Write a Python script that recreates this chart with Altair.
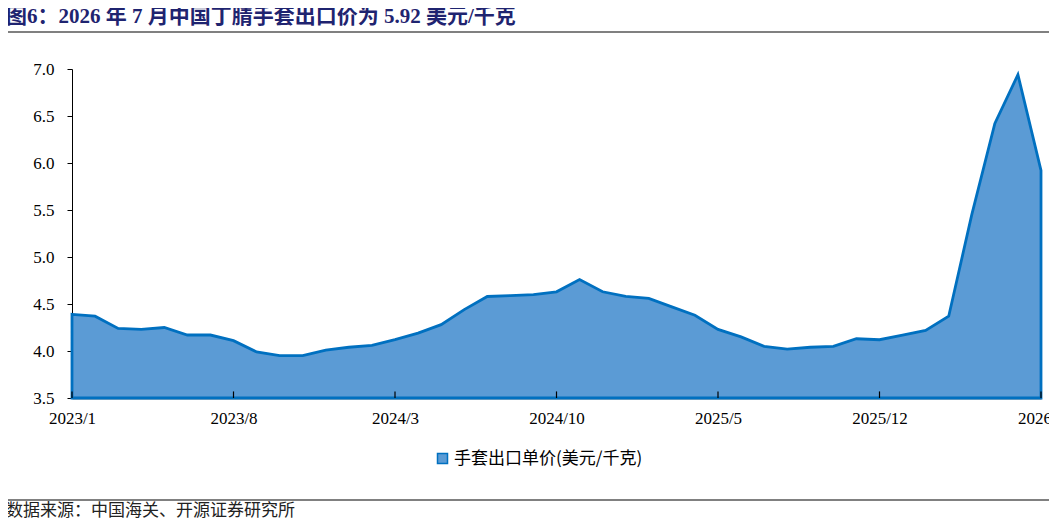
import json
import altair as alt
import pandas as pd

# monthly categories 2023/1 .. 2026/7
months = [f"{y}/{m}" for y in (2023, 2024, 2025, 2026) for m in range(1, 13)][:43]
tick_months = ["2023/1", "2023/8", "2024/3", "2024/10", "2025/5", "2025/12", "2026/7"]
prices = [4.39, 4.37, 4.24, 4.23, 4.25, 4.17, 4.17, 4.11, 3.99, 3.95, 3.95, 4.01,
          4.04, 4.06, 4.12, 4.19, 4.28, 4.44, 4.58, 4.59, 4.60, 4.63, 4.76, 4.63,
          4.58, 4.56, 4.47, 4.38, 4.23, 4.15, 4.05, 4.02, 4.04, 4.05, 4.13, 4.12,
          4.17, 4.22, 4.37, 5.45, 6.42, 6.94, 5.92]
series_name = "手套出口单价(美元/千克)"
y_ticks = [3.5, 4.0, 4.5, 5.0, 5.5, 6.0, 6.5, 7.0]

title_text = "图6：2026 年 7 月中国丁腈手套出口价为 5.92 美元/千克"
source_text = "数据来源：中国海关、开源证券研究所"

df = pd.DataFrame({"idx": range(len(months)), "month": months,
                   "price": prices, "series": series_name})
tick_idx = [months.index(m) for m in tick_months]
ticks_df = pd.DataFrame({"idx": tick_idx})
one = pd.DataFrame({"k": [0]})

x_enc = alt.X("idx:Q",
              scale=alt.Scale(domain=[0, len(months) - 1], nice=False, zero=False),
              axis=alt.Axis(values=tick_idx, labelExpr=json.dumps(months) + "[datum.value]",
                            labelAngle=0, title=None, ticks=False, grid=False,
                            labelPadding=12, labelFlush=False, labelOverlap=False,
                            domainColor="black", domainWidth=1.5,
                            labelFont="Liberation Serif", labelFontSize=17,
                            labelColor="black"))

area = alt.Chart(df).mark_area(stroke="#0070C0", strokeWidth=2.8, opacity=1).encode(
    x=x_enc,
    y=alt.Y("price:Q", scale=alt.Scale(domain=[3.5, 7.0], nice=False, zero=False),
            axis=alt.Axis(values=y_ticks, format=".1f", title=None, grid=False,
                          domainColor="black", domainWidth=1, tickColor="black",
                          tickSize=5, labelPadding=13, labelFont="Liberation Serif",
                          labelFontSize=17, labelColor="black")),
    y2=alt.datum(3.5),
    color=alt.Color("series:N", scale=alt.Scale(range=["#5B9BD5"]),
                    legend=alt.Legend(title=None, orient="none", legendX=362, legendY=381,
                                      symbolType="square", symbolSize=100,
                                      symbolStrokeColor="#0070C0", symbolStrokeWidth=1.5,
                                      labelFont="Noto Sans CJK SC", labelFontSize=17,
                                      labelLimit=400, labelColor="black", labelOffset=3)),
)

xticks = alt.Chart(ticks_df).mark_rule(color="black", strokeWidth=1.2).encode(
    x=x_enc, y=alt.datum(3.5), y2=alt.datum(3.57)
)

top_line = alt.Chart(one).mark_rule(color="#808080", strokeWidth=2).encode(
    x=alt.value(-66), x2=alt.value(990), y=alt.value(-37)
)
bottom_line = alt.Chart(one).mark_rule(color="#808080", strokeWidth=2).encode(
    x=alt.value(-66), x2=alt.value(990), y=alt.value(431)
)
source = alt.Chart(one).mark_text(align="left", baseline="middle", fontSize=17,
                                  font="Noto Sans CJK SC", color="#222222").encode(
    x=alt.value(-66), y=alt.value(442), text=alt.value(source_text)
)

chart = alt.layer(area, xticks, top_line, bottom_line, source).properties(
    width=969, height=329,
    autosize=alt.AutoSizeParams(type="none"),
    padding={"left": 64, "top": 61, "right": 8, "bottom": 125},
    title=alt.TitleParams(title_text, anchor="start", frame="group", dx=-66, offset=4,
                          font="Liberation Serif, Noto Sans CJK SC", fontSize=21,
                          fontWeight="bold", color="#1F2470"),
).configure_view(stroke=None)

chart.save("out.html", embed_options={"renderer": "svg", "actions": False})
